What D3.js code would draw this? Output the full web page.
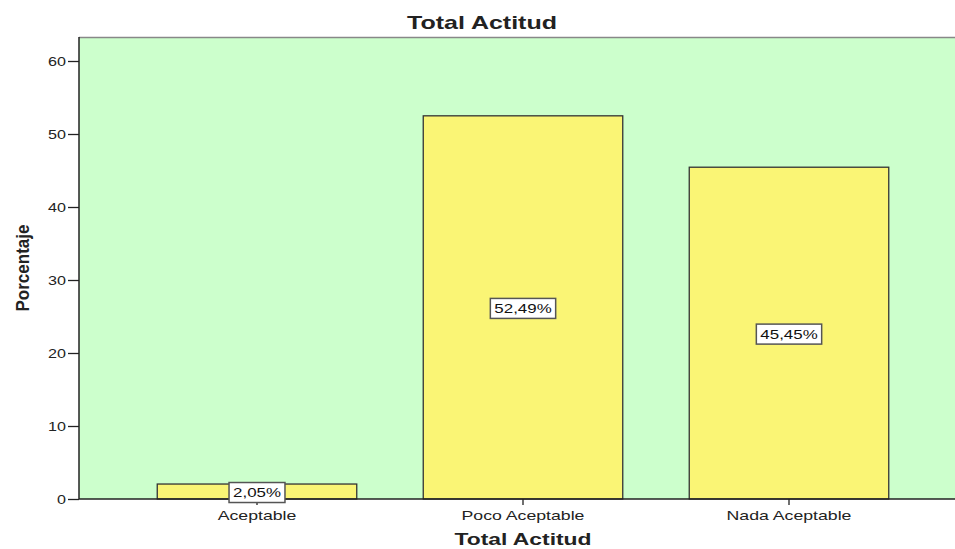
<!DOCTYPE html>
<html><head><meta charset="utf-8">
<script src="https://cdn.jsdelivr.net/npm/d3@7"></script>
<style>body{margin:0;background:#fff}svg{display:block}</style>
</head><body>
<svg id="c" width="955" height="549"></svg>
<script>
const categories = ["Aceptable", "Poco Aceptable", "Nada Aceptable"];
const values = [2.05, 52.49, 45.45];
const valueLabels = ["2,05%", "52,49%", "45,45%"];
const yTicks = [0, 10, 20, 30, 40, 50, 60];

const FONT = "Arial, 'Liberation Sans', sans-serif";
const svg = d3.select("#c");
const L = 79, T = 37, R = 955, B = 499;
const y = d3.scaleLinear().domain([0, 60]).range([B, 61]);
const x = d3.scaleBand().domain(categories).range([124, 922]).paddingInner(0.25).paddingOuter(0.125);

function stretch(sel, f) {
  sel.each(function() {
    const w = this.getComputedTextLength();
    d3.select(this).attr("textLength", w * f).attr("lengthAdjust", "spacingAndGlyphs");
  });
}

svg.append("rect").attr("x", L).attr("y", T).attr("width", R - L).attr("height", B - T).attr("fill", "#CCFFCC");
svg.append("line").attr("x1", L).attr("x2", R).attr("y1", T + 0.5).attr("y2", T + 0.5).attr("stroke", "#888").attr("stroke-width", 1.5);

svg.selectAll("rect.bar").data(values).enter().append("rect").attr("class", "bar")
  .attr("x", (d, i) => x(categories[i]))
  .attr("y", d => y(d))
  .attr("width", x.bandwidth())
  .attr("height", d => B - y(d))
  .attr("fill", "#FAF575").attr("stroke", "#333").attr("stroke-width", 1.3);

// axes
const ya = svg.append("g").attr("transform", `translate(${L},0)`)
  .call(d3.axisLeft(y).tickValues(yTicks).tickSize(11).tickPadding(2));
const xa = svg.append("g").attr("transform", `translate(0,${B})`)
  .call(d3.axisBottom(x).tickSize(6).tickPadding(6));
[ya, xa].forEach(a => {
  a.select(".domain").remove();
  a.selectAll("line").attr("stroke", "#222").attr("stroke-width", 1.3);
  a.selectAll("text").attr("font-family", FONT).attr("font-size", 13).attr("fill", "#222");
});
stretch(ya.selectAll("text"), 1.24);
stretch(xa.selectAll("text"), 1.36);
svg.append("line").attr("x1", L).attr("x2", L).attr("y1", T).attr("y2", B).attr("stroke", "#222").attr("stroke-width", 1.5);
svg.append("line").attr("x1", L).attr("x2", R).attr("y1", B).attr("y2", B).attr("stroke", "#222").attr("stroke-width", 1.5);

// value labels
const lg = svg.selectAll("g.lbl").data(values).enter().append("g").attr("class", "lbl")
  .attr("transform", (d, i) => `translate(${x(categories[i]) + x.bandwidth() / 2},${(y(d) + B) / 2 + 1})`);
lg.each(function(d, i) {
  const g = d3.select(this);
  const t = g.append("text").text(valueLabels[i]).attr("text-anchor", "middle").attr("dy", "0.36em")
    .attr("font-family", FONT).attr("font-size", 13).attr("fill", "#111");
  stretch(t, 1.3);
  const w = +t.attr("textLength");
  g.insert("rect", "text").attr("x", -w / 2 - 4).attr("y", -10).attr("width", w + 8).attr("height", 20)
    .attr("fill", "#fff").attr("stroke", "#555").attr("stroke-width", 1.5);
});

const t1 = svg.append("text").text("Total Actitud").attr("x", 482).attr("y", 29).attr("text-anchor", "middle")
  .attr("font-family", FONT).attr("font-weight", "bold").attr("font-size", 19).attr("fill", "#222");
t1.attr("textLength", 150).attr("lengthAdjust", "spacingAndGlyphs");
const t2 = svg.append("text").text("Total Actitud").attr("x", 523).attr("y", 545).attr("text-anchor", "middle")
  .attr("font-family", FONT).attr("font-weight", "bold").attr("font-size", 17).attr("fill", "#222");
t2.attr("textLength", 137).attr("lengthAdjust", "spacingAndGlyphs");
svg.append("text").text("Porcentaje").attr("transform", "translate(29,268) rotate(-90)").attr("text-anchor", "middle")
  .attr("font-family", FONT).attr("font-weight", "bold").attr("font-size", 19).attr("fill", "#222")
  .attr("textLength", 87).attr("lengthAdjust", "spacingAndGlyphs");
</script>
</body></html>
